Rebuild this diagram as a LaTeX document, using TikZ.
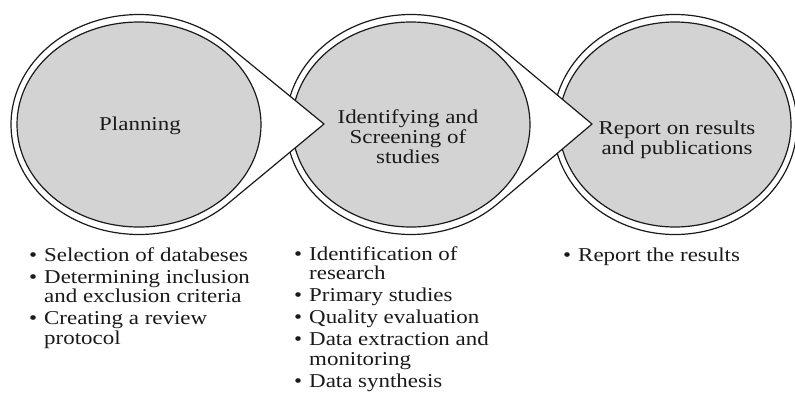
\documentclass[tikz,border=0pt]{standalone}
\usepackage{fontspec}
\setmainfont{Liberation Serif}[FakeStretch=1.17]
\usetikzlibrary{shapes.geometric,calc,positioning}
\definecolor{stageGray}{HTML}{D3D3D3}
\definecolor{stageInk}{HTML}{1A1A1A}
\newcommand{\bitem}[1]{\par\hangindent=15pt\hangafter=1\noindent\makebox[15pt][l]{\textbullet}#1}
\newcommand{\blist}[1]{\parbox[t]{230pt}{\setlength{\parskip}{2.2pt}#1}}

\begin{document}
\begin{tikzpicture}[x=1pt,y=-1pt,line join=round]
\tikzset{outerring/.style={draw=stageInk,fill=white,line width=1.2pt},innerdisc/.style={ellipse,draw=stageInk,fill=stageGray,line width=1.2pt,inner sep=0pt},stagetext/.style={font=\fontsize{19.6}{19.8}\selectfont,text=stageInk,align=center,anchor=base,inner sep=0pt},bulletlist/.style={font=\fontsize{19.6}{19.8}\selectfont,text=stageInk,anchor=base west,inner sep=0pt}}
\path[use as bounding box,fill=white] (0,0) rectangle (795,392);
% last stage first, so the arrows of the earlier ones lie on top
\coordinate (reportC) at (675,124.5);
\path[outerring] (reportC) ellipse[x radius=122pt,y radius=110pt];
\node[innerdisc,minimum width=232pt,minimum height=205pt] (report) at (reportC) {};
\node[stagetext] (reportTxt) at (677,154) {Report on results\\and publications};
% middle stage
\coordinate (identC) at (411,124.5); \coordinate (identTip) at (592,124);
\path[outerring] (identC) ++(46.3:125pt and 110pt) arc[start angle=46.3,end angle=313.7,x radius=125pt,y radius=110pt] -- (identTip) -- cycle;
\node[innerdisc,minimum width=238pt,minimum height=205pt] (ident) at (identC) {};
\node[stagetext] (identTxt) at (408,163) {Identifying and\\Screening of\\studies};
% first stage
\coordinate (planC) at (139,124.5); \coordinate (planTip) at (324,124);
\path[outerring] (planC) ++(46.2:128pt and 110pt) arc[start angle=46.2,end angle=313.8,x radius=128pt,y radius=110pt] -- (planTip) -- cycle;
\node[innerdisc,minimum width=244pt,minimum height=205pt] (plan) at (planC) {};
\node[stagetext] (planTxt) at (140,130) {Planning};
% lists under the stages
\node[bulletlist] (planList) at (29,261) {\blist{\bitem{Selection of databeses}\bitem{Determining inclusion\\and exclusion criteria}\bitem{Creating a review\\protocol}}};
\node[bulletlist] (identList) at (294,260) {\blist{\bitem{Identification of\\research}\bitem{Primary studies}\bitem{Quality evaluation}\bitem{Data extraction and\\monitoring}\bitem{Data synthesis}}};
\node[bulletlist] (reportList) at (563,261) {\blist{\bitem{Report the results}}};
\end{tikzpicture}
\end{document}
